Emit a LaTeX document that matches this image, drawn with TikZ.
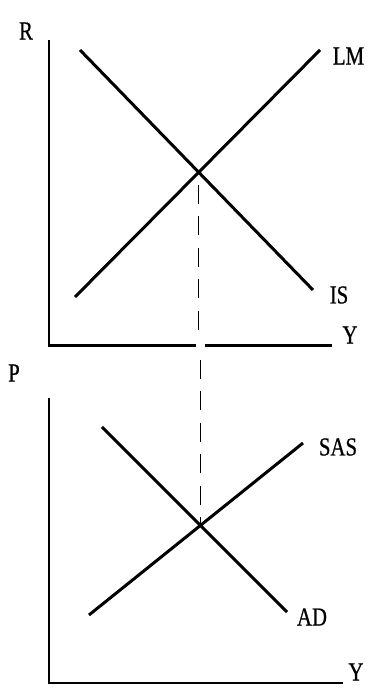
\documentclass[tikz,border=0pt]{standalone}
\usepackage{fontspec}
\setmainfont[FakeStretch=0.8,FakeBold=0.6]{Liberation Serif}
\usetikzlibrary{intersections,calc}

\begin{document}
\begin{tikzpicture}[x=10pt,y=10pt,
    axis/.style={line width=2.2pt},
    curve/.style={line width=3pt},
    guide/.style={line width=1pt,dash pattern=on 19pt off 12.5pt},
    lbl/.style={inner sep=0pt,font=\fontsize{26}{30}\selectfont}]
    \useasboundingbox (0,0) rectangle (37.4,69.7);

    % IS-LM
    \coordinate (O1) at (4.9,35.15);
    \coordinate (top1) at (4.9,65.7);
    \coordinate (end1) at (33.2,35.15);
    \coordinate (gapL) at (19.6,35.15);
    \coordinate (gapR) at (20.5,35.15);
    \draw[axis] (top1) -- (O1) -- (gapL);
    \draw[axis] (gapR) -- (end1);
    \node[lbl] (R) at (2.6,66.6) {R};
    \node[lbl] (Y1) at (35.0,36.2) {Y};

    \coordinate (is1) at (8.0,64.7);
    \coordinate (is2) at (31.3,40.7);
    \coordinate (lm1) at (7.5,40.0);
    \coordinate (lm2) at (32.0,64.7);
    \draw[curve,name path=IS] (is1) -- (is2);
    \draw[curve,name path=LM] (lm1) -- (lm2);
    \node[lbl] (LM) at (34.85,64.1) {LM};
    \node[lbl] (IS) at (33.9,40.2) {IS};

    % AD-SAS
    \coordinate (O2) at (4.9,1.4);
    \coordinate (top2) at (4.9,29.9);
    \coordinate (end2) at (34.3,1.4);
    \draw[axis] (top2) -- (O2) -- (end2);
    \node[lbl] (P) at (1.4,32.4) {P};
    \node[lbl] (Y2) at (35.6,2.5) {Y};

    \coordinate (ad1) at (10.2,27.0);
    \coordinate (ad2) at (28.7,8.5);
    \coordinate (sas1) at (8.9,8.2);
    \coordinate (sas2) at (30.3,25.4);
    \draw[curve,name path=AD] (ad1) -- (ad2);
    \draw[curve,name path=SAS] (sas1) -- (sas2);
    \node[lbl] (SAS) at (33.8,25.0) {SAS};
    \node[lbl] (AD) at (31.2,8.0) {AD};

    % equilibrium link
    \path[name intersections={of=IS and LM,by=E1}];
    \path[name intersections={of=AD and SAS,by=E2}];
    \coordinate (d1) at (E1 |- 0,36.7);
    \coordinate (d2) at (E2 |- 0,33.7);
    \draw[guide] (d1) -- (E1);
    \draw[guide] (d2) -- (E2);
\end{tikzpicture}
\end{document}
